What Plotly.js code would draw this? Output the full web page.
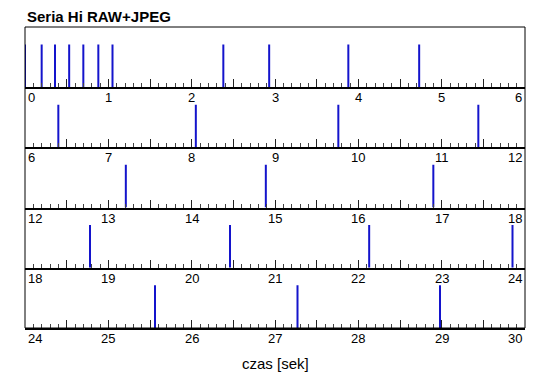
<!DOCTYPE html>
<html>
<head>
<meta charset="utf-8">
<script src="https://cdn.plot.ly/plotly-3.0.1.min.js"></script>
<style>html,body{margin:0;padding:0;background:#fff;}#chart{width:550px;height:389px;}</style>
</head>
<body>
<div id="chart"></div>
<script>
// ---- data ----
const chartTitle = "Seria Hi RAW+JPEG";
const xAxisTitle = "czas [sek]";
const eventTimes = [0.0, 0.2, 0.36, 0.53, 0.7, 0.88, 1.05, 2.38, 2.93, 3.88, 4.73,
                    6.4, 8.05, 9.76, 11.44,
                    13.21, 14.89, 16.9,
                    18.78, 20.46, 22.13, 23.85,
                    25.56, 27.27, 28.98];
const panelStarts = [0, 6, 12, 18, 24];
const panelSpan = 6;
const tickLabels = [
  ["0","1","2","3","4","5","6"],
  ["6","7","8","9","10","11","12"],
  ["12","13","14","15","16","17","18"],
  ["18","19","20","21","22","23","24"],
  ["24","25","26","27","28","29","30"]
];

// ---- build ----
const nP = panelStarts.length;
const traces = [];
const layout = {
  width: 550, height: 389,
  margin: {l: 25, r: 25, t: 27, b: 61},
  paper_bgcolor: '#fff', plot_bgcolor: '#fff',
  showlegend: false,
  font: {family: '"Liberation Sans", Arial, Helvetica, sans-serif', size: 13, color: '#000'},
  annotations: [], shapes: []
};
const lineTop = 0.71;
for (let p = 0; p < nP; p++) {
  const s = panelStarts[p];
  const xs = [], ys = [];
  eventTimes.forEach(t => {
    if (t >= s && t < s + panelSpan) { xs.push(t, t, null); ys.push(0, lineTop, null); }
  });
  const idx = p === 0 ? '' : String(p + 1);
  traces.push({
    type: 'scatter', mode: 'lines', x: xs, y: ys,
    xaxis: 'x' + idx, yaxis: 'y' + idx,
    line: {color: '#1414cc', width: 2}, hoverinfo: 'skip'
  });
  const top = 1 - p / nP, bot = 1 - (p + 1) / nP;
  layout['xaxis' + idx] = {
    domain: [0, 1], anchor: 'y' + idx, range: [s, s + panelSpan],
    showgrid: false, zeroline: false, showline: true, linecolor: '#000', linewidth: 2,
    ticks: 'inside', tickmode: 'linear', tick0: 0, dtick: 0.5, ticklen: 8, tickwidth: 1, tickcolor: '#222',
    minor: {ticks: 'inside', dtick: 0.1, tick0: 0, ticklen: 4, tickwidth: 1, tickcolor: '#444', showgrid: false},
    showticklabels: false, fixedrange: true
  };
  layout['yaxis' + idx] = {
    domain: [bot, top], anchor: 'x' + idx, range: [0, 1],
    showgrid: false, zeroline: false, showline: false, showticklabels: false, ticks: '', fixedrange: true
  };
  tickLabels[p].forEach((lab, i) => {
    const v = s + i;
    let xa = 'center', xs2 = 0;
    if (i === 0) { xa = 'left'; xs2 = 1; }
    else if (i === tickLabels[p].length - 1) { xa = 'right'; xs2 = -1; }
    layout.annotations.push({
      xref: 'x' + idx, yref: 'y' + idx, x: v, y: 0, text: lab, showarrow: false,
      xanchor: xa, yanchor: 'top', xshift: xs2, yshift: -1,
      font: {size: 13, color: '#000'}
    });
  });
}
// outer frame
layout.shapes.push({type: 'rect', xref: 'paper', yref: 'paper', x0: 0, x1: 1, y0: 0, y1: 1,
  line: {color: '#000', width: 1}, layer: 'above'});
// title
layout.annotations.push({xref: 'paper', yref: 'paper', x: 0, y: 1, xanchor: 'left', yanchor: 'bottom',
  xshift: 0, yshift: 0, showarrow: false, text: '<b>' + chartTitle + '</b>',
  font: {size: 15, color: '#000'}});
// x axis title
layout.annotations.push({xref: 'paper', yref: 'paper', x: 0.5, y: 0, xanchor: 'center', yanchor: 'top',
  yshift: -25, showarrow: false, text: xAxisTitle, font: {size: 15, color: '#000'}});

Plotly.newPlot('chart', traces, layout, {staticPlot: true, displayModeBar: false});
</script>
</body>
</html>
